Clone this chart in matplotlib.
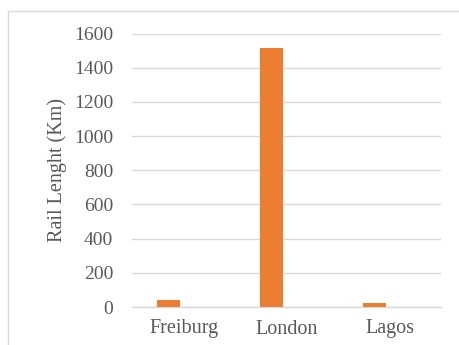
import matplotlib
matplotlib.use("Agg")
import matplotlib.pyplot as plt
from matplotlib.patches import Rectangle
import numpy as np

cities = ["Freiburg", "London", "Lagos"]
rail_km = [43, 1513, 25]
y_ticks = [0, 200, 400, 600, 800, 1000, 1200, 1400, 1600]

plt.rcParams["font.family"] = ["Liberation Serif", "DejaVu Serif"]
text_color = "#595959"
bar_color = "#ED7D31"
grid_color = "#D9D9D9"

W, H = 460, 345
fig = plt.figure(figsize=(W / 100, H / 100), dpi=100)

# light outer frame of the chart area
fig.patches.append(Rectangle((8 / W, -0.1), 1.2, 1 - 11 / H + 0.1,
                             transform=fig.transFigure, fill=False,
                             edgecolor="#D9D9D9", linewidth=1.0))

left, right = 132 / W, 441 / W
bottom, top = 1 - 307 / H, 1 - 33.5 / H
ax = fig.add_axes([left, bottom, right - left, top - bottom])

x = np.arange(len(cities))
ax.bar(x - 0.146, rail_km, width=0.223, color=bar_color, zorder=3)

ax.set_xlim(-0.5, len(cities) - 0.5)
ax.set_ylim(0, 1600)
ax.set_yticks(y_ticks)
ax.set_yticklabels([str(v) for v in y_ticks])
ax.set_xticks(x)
ax.set_xticklabels(cities)

ax.yaxis.grid(True, color=grid_color, linewidth=1.0, zorder=0)
ax.set_axisbelow(True)
for s in ["top", "right", "left"]:
    ax.spines[s].set_visible(False)
ax.spines["bottom"].set_color(grid_color)
ax.spines["bottom"].set_linewidth(1.0)

ax.tick_params(axis="both", length=0, colors=text_color)
ax.tick_params(axis="y", labelsize=14, pad=13.5)
ax.tick_params(axis="x", labelsize=14.5, pad=9)

ax.set_ylabel("Rail Lenght (Km)", fontsize=14.5, color=text_color, labelpad=5)

fig.savefig("out.png", dpi=100)
